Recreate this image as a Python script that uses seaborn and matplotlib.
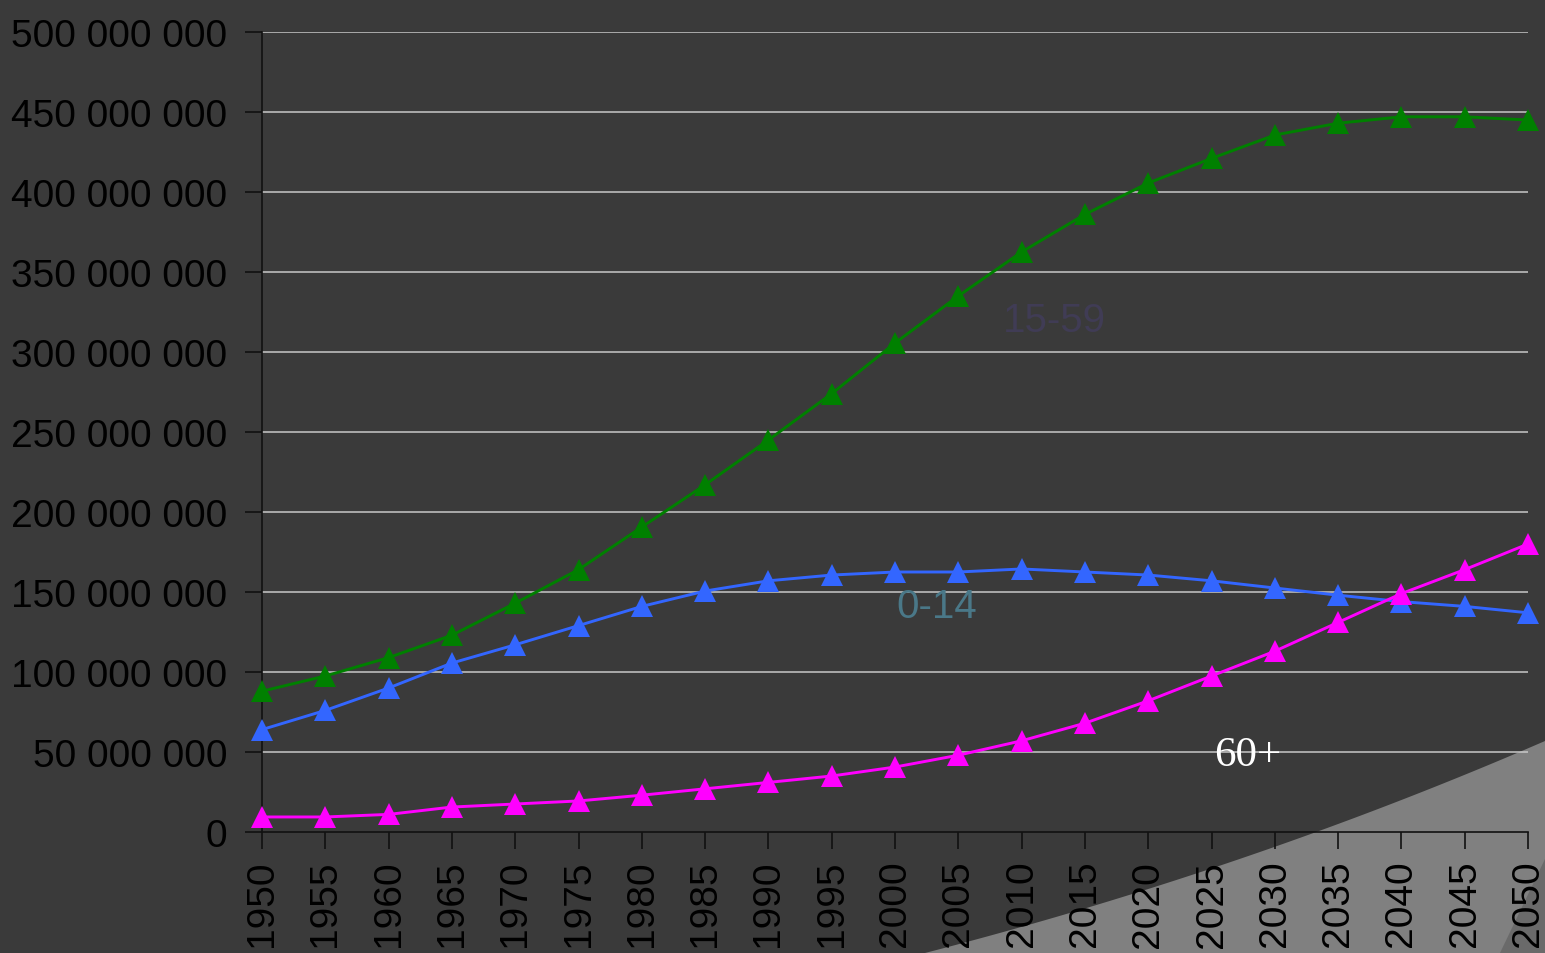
import numpy as np
import pandas as pd
import matplotlib
matplotlib.use('Agg')
import matplotlib.pyplot as plt
import seaborn as sns
from matplotlib.patches import Polygon

# data (population by age group)
years = list(range(1950, 2051, 5))
age_0_14 = [64, 76, 90, 105.6, 117, 129, 141, 150.6, 157, 160.6, 162.5,
            162.5, 164.4, 162.5, 160.6, 157, 152.5, 148, 144, 141, 137]
age_15_59 = [88, 97.5, 109, 123, 143, 164, 190.6, 217, 245, 274, 305.6,
             335, 362.5, 386, 405.6, 421, 435.6, 443, 447, 447, 445]
age_60_plus = [9.4, 9.4, 11, 15.6, 17.5, 19.4, 23, 27, 31, 35, 40.6,
               48, 57, 68, 82, 97.5, 113, 131, 149, 164, 180]
series_names = ['0-14', '15-59', '60+']
series_colors = {'0-14': '#3366ff', '15-59': '#008000', '60+': '#ff00ff'}
y_ticks = list(range(0, 500_000_001, 50_000_000))

df = pd.DataFrame({'year': years * 3,
                   'pop': np.array(age_0_14 + age_15_59 + age_60_plus) * 1e6,
                   'group': sum([[n] * len(years) for n in series_names], [])})

sns.set_theme(style='white')
plt.rcParams['font.family'] = ['Liberation Sans', 'DejaVu Sans']
BG = '#3a3a3a'

fig = plt.figure(figsize=(15.45, 9.54), dpi=100, facecolor=BG)
ax = fig.add_axes([262 / 1545, 1 - 833 / 954, (1528 - 262) / 1545, 800 / 954])
ax.set_facecolor('none')


def px_poly(points, color):
    # decoration given in pixel space, converted to figure fraction
    points = np.asarray(points, dtype=float)
    xy = np.column_stack([points[:, 0] / 1545, 1 - points[:, 1] / 954])
    fig.patches.append(Polygon(xy, closed=True, transform=fig.transFigure,
                               facecolor=color, edgecolor='none', zorder=-1))


# grey swoosh in the lower right corner
t = np.linspace(0, 1, 60)
p0, p1, p2 = np.array([925, 954]), np.array([1250, 870]), np.array([1545, 742])
curve = ((1 - t)[:, None] ** 2) * p0 + (2 * (1 - t) * t)[:, None] * p1 + (t ** 2)[:, None] * p2
px_poly(np.vstack([curve, [[1545, 954]]]), '#808080')
px_poly([[1500, 954], [1545, 860], [1545, 954]], '#6a6a6a')

for yv in y_ticks[1:]:
    ax.axhline(yv, color='#c8c8c8', linewidth=1.1, zorder=1)

sns.lineplot(data=df, x='year', y='pop', hue='group', palette=series_colors,
             marker='^', markersize=16, markeredgewidth=0, linewidth=2.1,
             legend=False, ax=ax, zorder=3, clip_on=False)

ax.set_xlim(1950, 2050)
ax.set_ylim(0, 500_000_000)
ax.set_xticks(years)
ax.set_xticklabels([str(y) for y in years], rotation=90)
ax.set_yticks(y_ticks)
ax.set_yticklabels(['0' if v == 0 else f'{v:,.0f}'.replace(',', ' ') for v in y_ticks])
ax.tick_params(axis='both', which='both', direction='out', length=12, width=1.2,
               color='#111111', labelcolor='black', labelsize=28,
               bottom=True, left=True)
ax.tick_params(axis='y', pad=13)
ax.tick_params(axis='x', pad=8)
ax.set_xlabel('')
ax.set_ylabel('')
for side in ['top', 'right']:
    ax.spines[side].set_visible(False)
for side in ['left', 'bottom']:
    ax.spines[side].set_color('#111111')
    ax.spines[side].set_linewidth(1.2)

ax.text(2012.6, 320_000_000, '15-59', color='#403c55', fontsize=29, ha='center', va='center')
ax.text(2003.3, 141_000_000, '0-14', color='#4a7888', fontsize=29, ha='center', va='center')
ax.text(2027.9, 48_000_000, '60+', color='white', fontsize=31, ha='center', va='center',
        family=['Liberation Serif', 'DejaVu Serif'])

fig.savefig('out.png', dpi=100, facecolor=BG)
